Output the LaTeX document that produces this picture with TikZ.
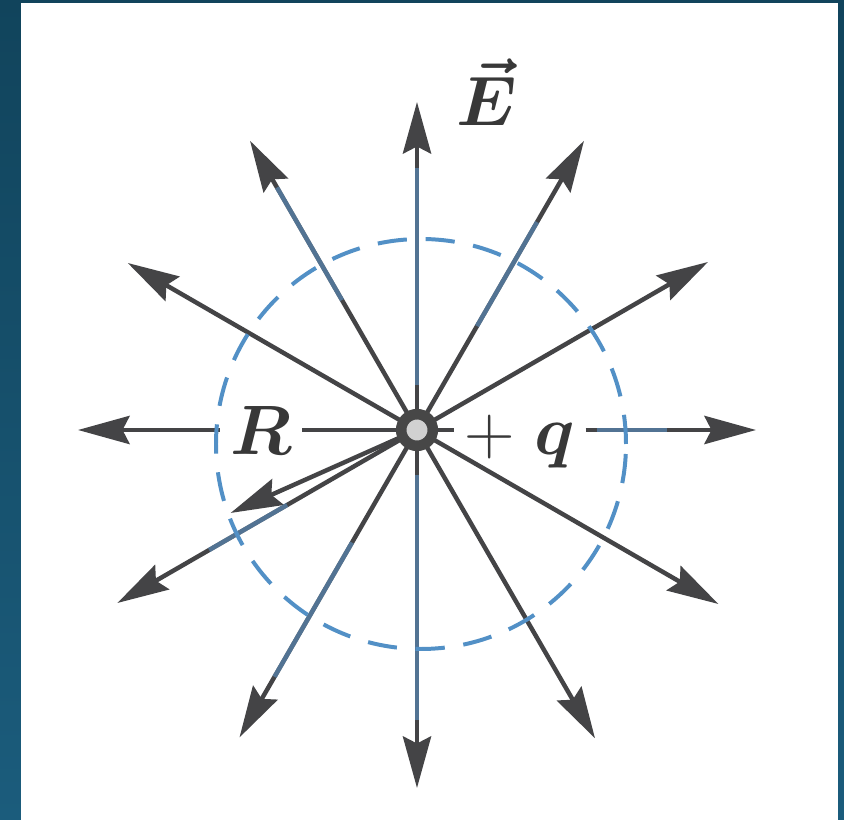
\documentclass[tikz,border=0pt]{standalone}
\usepackage{bm}
\usetikzlibrary{arrows.meta}
\definecolor{fieldgray}{RGB}{68,68,70}
\definecolor{sphereblue}{RGB}{82,144,198}
\definecolor{tintblue}{RGB}{88,136,180}
\definecolor{framedark}{RGB}{17,68,92}
\definecolor{framelight}{RGB}{27,92,124}
\begin{document}
\begin{tikzpicture}[x=0.03cm, y=0.03cm,
    field/.style={draw=fieldgray, line width=3.8pt, -{Stealth[length=44pt, width=24pt, inset=6pt]}},
    tint/.style={draw=tintblue, line width=3.8pt, opacity=0.7},
    sphere/.style={draw=sphereblue, line width=3.4pt, dash pattern=on 25pt off 16pt},
    lbl/.style={text=black!78, font=\Huge, scale=2.4, anchor=base, inner xsep=3.5pt},
    charge/.style={circle, fill=black!18, draw=black!72, line width=9pt, minimum size=27pt, inner sep=0pt}]
    \shade[top color=framedark, bottom color=framelight] (0,0) rectangle (844,820);
    \fill[white] (21,0) rectangle (838,817);
    \useasboundingbox (0,0) rectangle (844,820);
    \coordinate (O) at (417,390);
    \node[lbl] (R) at (261,365) {$\bm{R}$};
    \node[lbl] (pq) at (520,365) {$+\;\bm{q}$};
    \node[lbl] (E) at (487,694) {$\bm{\vec{E}}$};
    \foreach \a/\l in {30/336,60/334,90/328,120/334,150/334,210/346,240/355,270/358,300/356,330/348}
        \draw[field] (O) -- ([shift={(\a:\l)}]O) coordinate (t\a);
    \coordinate (t0) at ([shift={(0:339)}]O);
    \coordinate (t180) at ([shift={(180:339)}]O);
    \draw[field] (pq.east |- O) -- (t0);
    \draw[field] (R.west |- O) -- (t180);
    \draw[draw=fieldgray, line width=3.8pt] (O) -- (R.east |- O);
    \draw[draw=fieldgray, line width=3.8pt] (O) -- (pq.west |- O);
    \draw[field] (O) -- ([shift={(204:204)}]O) coordinate (tR);
    \foreach \a/\r/\s in {90/45/262,270/45/290,120/150/280,60/120/240,240/130/285,210/150/240,0/180/250}
        \draw[tint] ([shift={(\a:\r)}]O) -- ([shift={(\a:\s)}]O);
    \draw[sphere] ([shift={(4,-14)}]O) circle (205);
    \node[charge] (q) at (O) {};
\end{tikzpicture}
\end{document}
